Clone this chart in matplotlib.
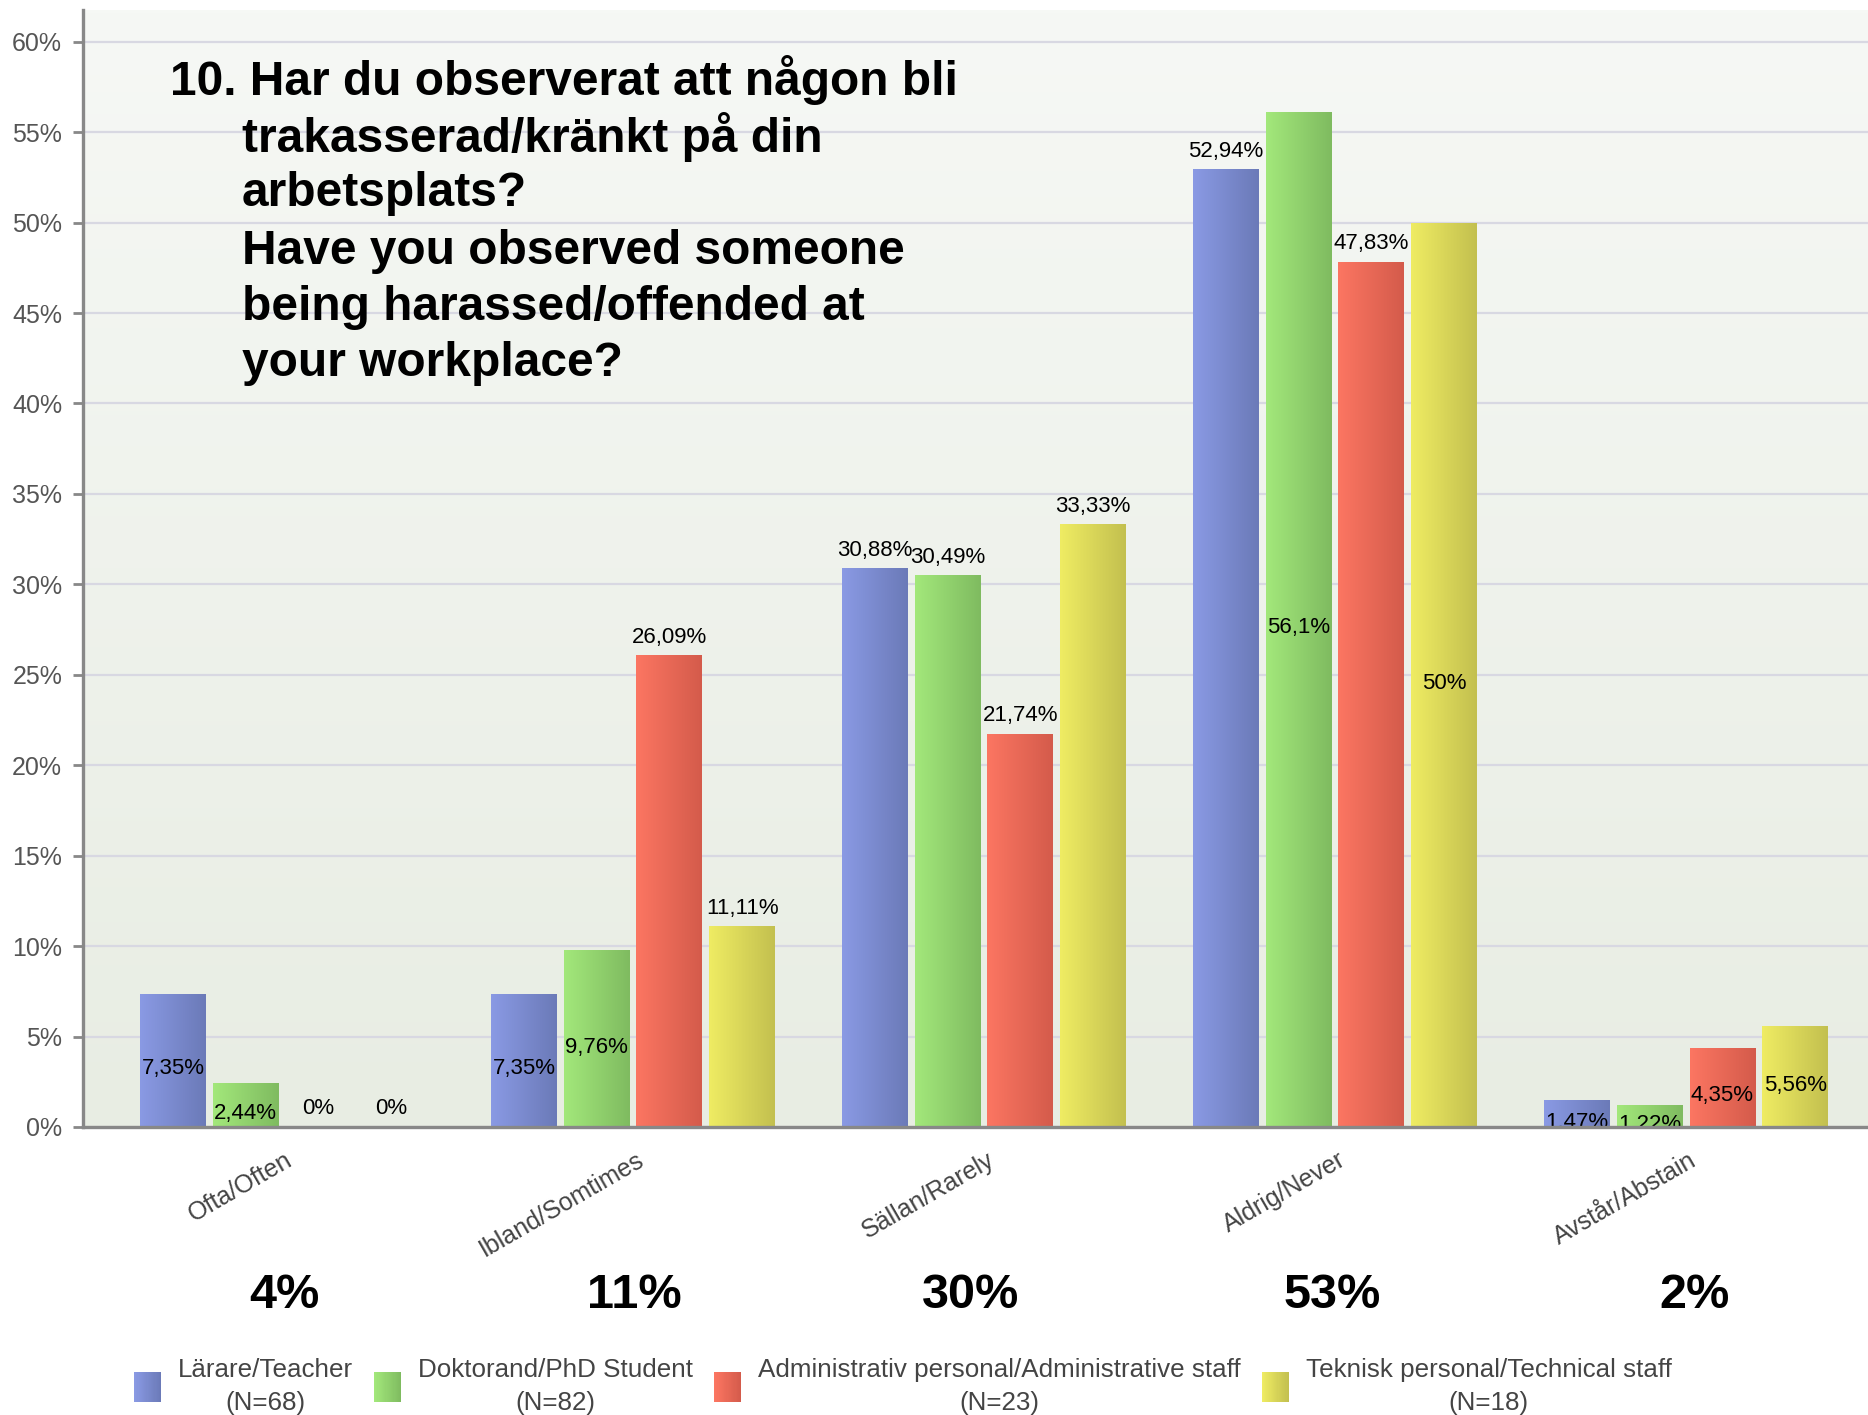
import numpy as np
import matplotlib
matplotlib.use("Agg")
import matplotlib.pyplot as plt
import matplotlib.transforms as mtransforms
from matplotlib.colors import LinearSegmentedColormap
from matplotlib.patches import Patch, Rectangle
from matplotlib.legend_handler import HandlerBase

plt.rcParams['font.family'] = ['Liberation Sans', 'DejaVu Sans']

# --- data ---
categories = ["Ofta/Often", "Ibland/Somtimes", "Sällan/Rarely", "Aldrig/Never", "Avstår/Abstain"]
totals = ["4%", "11%", "30%", "53%", "2%"]
series_names = ["Lärare/Teacher\n(N=68)", "Doktorand/PhD Student\n(N=82)",
                "Administrativ personal/Administrative staff\n(N=23)",
                "Teknisk personal/Technical staff\n(N=18)"]
teacher = [7.35, 7.35, 30.88, 52.94, 1.47]
phd = [2.44, 9.76, 30.49, 56.1, 1.22]
admin = [0, 26.09, 21.74, 47.83, 4.35]
tech = [0, 11.11, 33.33, 50, 5.56]
series_values = [teacher, phd, admin, tech]

# label placement: True = inside the bar (middle), False = above the bar
label_inside = [
    [True, True, False, False, True],
    [True, True, False, True, True],
    [False, False, False, False, True],
    [False, False, False, True, True],
]

# the totals row is not exactly centred under the groups in the original (points)
total_nudge = [2, 1, -10, -2, 6]

title_lines = ["10. Har du observerat att någon bli",
               "trakasserad/kränkt på din",
               "arbetsplats?",
               "Have you observed someone",
               "being harassed/offended at",
               "your workplace?"]

# gradient colours (left -> right) per series
grad_colors = [("#8a9ae4", "#6b7ab8"),
               ("#a3e87b", "#7fbb60"),
               ("#fc7662", "#d45b4b"),
               ("#efec63", "#c3c04f")]


def fmt(v):
    s = ("%.2f" % v).rstrip("0").rstrip(".")
    return s.replace(".", ",") + "%"


class GradHandler(HandlerBase):
    def __init__(self, c0, c1):
        super().__init__()
        self.cmap = LinearSegmentedColormap.from_list("g", [c0, c1])

    def create_artists(self, legend, orig_handle, xdescent, ydescent, width, height, fontsize, trans):
        n = 24
        arts = []
        for i in range(n):
            r = Rectangle((-xdescent + width * i / n, -ydescent), width / n * 1.1, height,
                          facecolor=self.cmap(i / (n - 1)), edgecolor='none', transform=trans)
            arts.append(r)
        return arts


W, H = 1868, 1415
fig = plt.figure(figsize=(W / 100, H / 100), dpi=100)
ax = fig.add_axes([83 / W, 1 - 1127 / H, 1 - 83 / W, (1127 - 9.5) / H])

# background gradient
bg = LinearSegmentedColormap.from_list("bg", ["#e8ede3", "#f6f8f5"])
ax.imshow(np.linspace(0, 1, 256).reshape(-1, 1), cmap=bg, origin='lower', extent=[0, 1, 0, 1],
          transform=ax.transAxes, aspect='auto', zorder=0)

x = np.arange(len(categories))
step = 0.207
width = 0.188
offsets = (np.arange(4) - 1.5) * step

grad = np.linspace(0, 1, 256).reshape(1, -1)
for si, vals in enumerate(series_values):
    bars = ax.bar(x + offsets[si], vals, width, color=grad_colors[si][0], zorder=2)
    cmap = LinearSegmentedColormap.from_list("s%d" % si, list(grad_colors[si]))
    for bi, b in enumerate(bars):
        h = b.get_height()
        if h > 0:
            im = ax.imshow(grad, cmap=cmap, extent=[b.get_x(), b.get_x() + b.get_width(), 0, h],
                           aspect='auto', zorder=2.5)
            im.set_clip_path(b)
        cx = b.get_x() + b.get_width() / 2
        if label_inside[si][bi]:
            ax.annotate(fmt(vals[bi]), (cx, h / 2), xytext=(0, -6), textcoords='offset points',
                        ha='center', va='center', fontsize=16, color='black', zorder=4,
                        annotation_clip=False, clip_on=True)
        else:
            ax.annotate(fmt(vals[bi]), (cx, h), xytext=(0, 9), textcoords='offset points',
                        ha='center', va='baseline', fontsize=16, color='black', zorder=4)

ax.set_xlim(-0.567, 4.518)
ax.set_ylim(0, 61.78)
ax.set_yticks(np.arange(0, 61, 5))
ax.set_yticklabels(["%d%%" % t for t in range(0, 61, 5)])
ax.set_xticks([])
ax.tick_params(axis='y', labelsize=18, labelcolor='#555555', color='#888888', length=7, width=2, pad=8)
ax.grid(axis='y', color='#d8d8e2', linewidth=1.6, zorder=1)
ax.set_axisbelow(True)
for s in ['top', 'right']:
    ax.spines[s].set_visible(False)
for s in ['left', 'bottom']:
    ax.spines[s].set_color('#888888')
    ax.spines[s].set_linewidth(2.4)
    ax.spines[s].set_zorder(5)

# category labels, rotated
cat_trans = ax.get_xaxis_transform() + mtransforms.ScaledTranslation(10.5 / 72, -15 / 72, fig.dpi_scale_trans)
for xi, c in zip(x, categories):
    ax.text(xi, 0, c, transform=cat_trans, rotation=30, ha='right', va='top',
            fontsize=18, color='#444444', clip_on=False)

# group totals
for xi, t, nx in zip(x, totals, total_nudge):
    tr = ax.get_xaxis_transform() + mtransforms.ScaledTranslation(nx / 72, -121 / 72, fig.dpi_scale_trans)
    ax.text(xi, 0, t, transform=tr, ha='center', va='center', fontsize=35,
            fontweight='bold', color='black', clip_on=False)

# title block
line_px = [80, 137, 193, 251, 308, 364]
for i, (line, py) in enumerate(zip(title_lines, line_px)):
    fx = 170 / W if i == 0 else 242 / W
    fig.text(fx, 1 - py / H, line, ha='left', va='center', fontsize=34.5,
             fontweight='bold', color='black')

# legend
handles = [Patch(label=n) for n in series_names]
hmap = {h: GradHandler(*grad_colors[i]) for i, h in enumerate(handles)}
leg = fig.legend(handles=handles, loc='upper left', bbox_to_anchor=(134 / W, 1 - 1358 / H),
                 ncol=4, frameon=False, fontsize=18.7, handlelength=1.05, handleheight=1.42,
                 handletextpad=0.65, columnspacing=0.8, borderpad=0, borderaxespad=0,
                 handler_map=hmap, labelcolor='#444444')
for t in leg.get_texts():
    t.set_multialignment('center')
    t.set_linespacing(1.45)

fig.savefig("out.png", dpi=100)
